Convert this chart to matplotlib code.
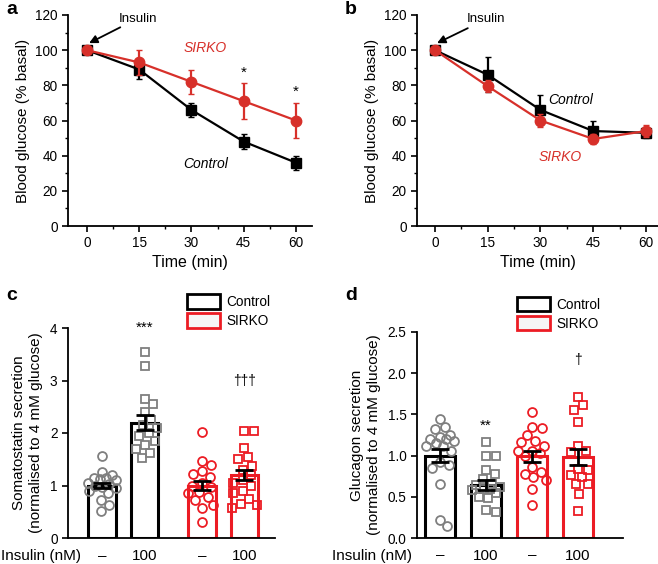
import numpy as np
import matplotlib
matplotlib.use("Agg")
import matplotlib.pyplot as plt
import matplotlib.transforms as mtransforms
from matplotlib.patches import Patch
from matplotlib.ticker import MultipleLocator, FormatStrFormatter

plt.rcParams['font.family'] = ['Liberation Sans', 'DejaVu Sans']

# --- panel a / b: insulin tolerance, % basal ---
time_min = [0, 15, 30, 45, 60]
a_control = [100, 89, 66, 48, 36]
a_control_err = [0, 5.5, 4, 4.2, 3.9]
a_sirko = [100, 93, 82, 71, 60]
a_sirko_err = [0, 7, 7, 10.3, 10.2]
a_stars = ["", "", "", "*", "*"]

b_control = [100, 86, 66, 54, 53]
b_control_err = [0, 10, 8.7, 6, 3]
b_sirko = [100, 79.5, 60, 49.5, 54]
b_sirko_err = [0, 3.5, 3.5, 3, 3.5]

# --- panel c: somatostatin secretion ---
insulin_labels = ["\u2013", "100", "\u2013", "100"]
c_means = [1.0, 2.2, 1.0, 1.2]
c_sems = [0.05, 0.14, 0.09, 0.10]
c_marks = ["***", "", "", "\u2020\u2020\u2020"]
c_ctrl_0 = [1.56, 1.25, 1.20, 1.15, 1.15, 1.12, 1.10, 1.05, 1.02, 1.00,
            0.98, 0.95, 0.90, 0.85, 0.72, 0.62, 0.52]
c_ctrl_100 = [3.55, 3.28, 2.65, 2.55, 2.40, 2.25, 2.15, 2.10, 2.00, 1.95,
              1.85, 1.78, 1.70, 1.62, 1.52]
c_sirko_0 = [2.02, 1.47, 1.40, 1.28, 1.22, 1.16, 1.04, 1.00, 0.97, 0.88,
             0.85, 0.79, 0.72, 0.63, 0.57, 0.30]
c_sirko_100 = [2.03, 2.03, 1.72, 1.55, 1.50, 1.38, 1.30, 1.20, 1.10, 1.05,
               1.00, 0.90, 0.85, 0.75, 0.65, 0.63, 0.57]

# --- panel d: glucagon secretion ---
d_means = [1.0, 0.64, 0.99, 0.98]
d_sems = [0.08, 0.06, 0.07, 0.10]
d_marks = ["", "**", "", "\u2020"]
d_ctrl_0 = [1.45, 1.35, 1.32, 1.25, 1.22, 1.20, 1.20, 1.18, 1.15, 1.12,
            1.12, 1.05, 0.92, 0.88, 0.85, 0.66, 0.22, 0.14]
d_ctrl_100 = [1.16, 1.00, 0.99, 0.83, 0.78, 0.72, 0.66, 0.64, 0.62, 0.60,
              0.60, 0.58, 0.55, 0.50, 0.48, 0.34, 0.31]
d_sirko_0 = [1.53, 1.35, 1.33, 1.25, 1.18, 1.16, 1.12, 1.06, 1.06, 1.03,
             1.00, 0.86, 0.80, 0.78, 0.74, 0.70, 0.59, 0.40]
d_sirko_100 = [1.71, 1.61, 1.55, 1.41, 1.12, 1.05, 1.04, 0.84, 0.82, 0.76,
               0.74, 0.65, 0.65, 0.54, 0.33]

RED_LINE = "#d7302a"
RED_BAR = "#ec1c24"
GREY = "#7f7f7f"


def style_axes(ax):
    for s in ("top", "right"):
        ax.spines[s].set_visible(False)
    for s in ("left", "bottom"):
        ax.spines[s].set_linewidth(1.3)
    ax.tick_params(direction="out", length=4, width=1.2, labelsize=9.8)
    ax.tick_params(which="minor", direction="out", length=2.5, width=1.0)


def time_panel(ax, ctrl, ctrl_err, sirko, sirko_err, xlim):
    ax.errorbar(time_min, ctrl, yerr=ctrl_err, color="black", marker="s",
                ms=7, lw=1.6, elinewidth=1.6, capsize=2.5, zorder=3)
    ax.errorbar(time_min, sirko, yerr=sirko_err, color=RED_LINE, marker="o",
                ms=7.5, lw=1.6, elinewidth=1.6, capsize=2.5, zorder=4)
    ax.set_xlim(*xlim)
    ax.set_ylim(0, 120)
    ax.set_xticks(time_min)
    ax.set_yticks(range(0, 121, 20))
    ax.xaxis.set_minor_locator(MultipleLocator(7.5))
    ax.yaxis.set_minor_locator(MultipleLocator(10))
    ax.set_xlabel("Time (min)", fontsize=11.5, labelpad=3)
    ax.set_ylabel("Blood glucose (% basal)", fontsize=11, labelpad=4)
    style_axes(ax)


def swarm_offsets(values, y_px, x_px, diam=9.5, max_off=14):
    # simple beeswarm: nudge each point sideways until it stops overlapping
    cands = [0]
    for k in range(1, max_off + 1):
        cands += [k, -k]
    placed, offs = [], []
    for v in values:
        y = v * y_px
        best, best_d = 0, -1.0
        for c in cands:
            d = min((np.hypot(c - px, y - py) for px, py in placed), default=1e9)
            if d >= diam:
                best = c
                break
            if d > best_d:
                best, best_d = c, d
        placed.append((best, y))
        offs.append(best / x_px)
    return offs


def bar_panel(ax, positions, means, sems, groups, ylim, yticks,
              ylabel, y_px, x_px, xlim, legend_xy):
    edge = ["black", "black", RED_BAR, RED_BAR]
    pts = [GREY, GREY, RED_BAR, RED_BAR]
    shapes = ["o", "s", "o", "s"]
    ax.bar(positions, means, width=0.65, facecolor="white", edgecolor=edge,
           linewidth=2.2, zorder=2)
    for p, vals, col, mk in zip(positions, groups, pts, shapes):
        offs = swarm_offsets(vals, y_px, x_px)
        ax.plot(np.array(offs) + p, vals, ls="none", marker=mk, ms=6.4,
                mfc="none", mec=col, mew=1.3, zorder=3)
    ax.errorbar(positions, means, yerr=sems, fmt="none", ecolor="black",
                elinewidth=2, capsize=6.5, capthick=2, zorder=4)
    ax.set_xlim(*xlim)
    ax.set_ylim(*ylim)
    ax.set_yticks(yticks)
    ax.set_xticks([])
    ax.set_ylabel(ylabel, fontsize=11, labelpad=5, linespacing=1.25)
    style_axes(ax)
    trans = mtransforms.blended_transform_factory(ax.transData, ax.transAxes)
    for p, lab in zip(positions, insulin_labels):
        ax.text(p, -0.085, lab, transform=trans, ha="center", va="center",
                fontsize=11)
    handles = [Patch(facecolor="white", edgecolor="black", lw=2),
               Patch(facecolor="#f6f6f6", edgecolor=RED_BAR, lw=2)]
    ax.legend(handles, ["Control", "SIRKO"], loc="upper left",
              bbox_to_anchor=legend_xy, frameon=False, fontsize=9.8,
              handlelength=2.4, handleheight=1.25, labelspacing=0.3,
              handletextpad=0.5, borderpad=0, borderaxespad=0)


fig = plt.figure(figsize=(6.58, 5.64), dpi=100)
W, H = 658, 564

ax_a = fig.add_axes([68 / W, 1 - 226 / H, 244 / W, 211 / H])
ax_b = fig.add_axes([417 / W, 1 - 226 / H, 241 / W, 211 / H])
ax_c = fig.add_axes([68 / W, 1 - 538 / H, 207 / W, 210 / H])
ax_d = fig.add_axes([417 / W, 1 - 538 / H, 206 / W, 206 / H])

# panel a
time_panel(ax_a, a_control, a_control_err, a_sirko, a_sirko_err, (-5.45, 64.6))
for t, v, e, s in zip(time_min, a_sirko, a_sirko_err, a_stars):
    if s:
        ax_a.text(t, v + e + 2, s, ha="center", va="bottom", fontsize=11)
ax_a.annotate("Insulin", xy=(0.6, 104), xytext=(9, 118), fontsize=9.5,
              va="center", ha="left",
              arrowprops=dict(arrowstyle="-|>", color="black", lw=1.3,
                              mutation_scale=12, shrinkA=0, shrinkB=0))
ax_a.text(34, 101.5, "SIRKO", color=RED_LINE, style="italic", fontsize=10,
          ha="center", va="center")
ax_a.text(34, 35.5, "Control", color="black", style="italic", fontsize=10,
          ha="center", va="center")

# panel b
time_panel(ax_b, b_control, b_control_err, b_sirko, b_sirko_err, (-5.1, 63.4))
ax_b.annotate("Insulin", xy=(0.6, 104), xytext=(9, 117.5), fontsize=9.5,
              va="center", ha="left",
              arrowprops=dict(arrowstyle="-|>", color="black", lw=1.3,
                              mutation_scale=12, shrinkA=0, shrinkB=0))
ax_b.text(38.5, 71.5, "Control", color="black", style="italic", fontsize=10,
          ha="center", va="center")
ax_b.text(35.5, 39.5, "SIRKO", color=RED_LINE, style="italic", fontsize=10,
          ha="center", va="center")

# panel c
pos_c = [0, 1, 2.35, 3.35]
bar_panel(ax_c, pos_c, c_means, c_sems,
          [c_ctrl_0, c_ctrl_100, c_sirko_0, c_sirko_100],
          (0, 4), [0, 1, 2, 3, 4],
          "Somatostatin secretion\n(normalised to 4 mM glucose)",
          52.5, 42.5, (-0.8, 4.07), (0.575, 1.16))
ax_c.text(pos_c[1], 4.0, c_marks[0], ha="center", va="center", fontsize=11)
ax_c.text(pos_c[3], 3.0, c_marks[3], ha="center", va="center", fontsize=10)

# panel d
pos_d = [0, 1, 2, 3]
bar_panel(ax_d, pos_d, d_means, d_sems,
          [d_ctrl_0, d_ctrl_100, d_sirko_0, d_sirko_100],
          (0, 2.5), [0.0, 0.5, 1.0, 1.5, 2.0, 2.5],
          "Glucagon secretion\n(normalised to 4 mM glucose)",
          82.5, 46, (-0.5, 3.98), (0.485, 1.17))
ax_d.yaxis.set_major_formatter(FormatStrFormatter("%.1f"))
ax_d.text(pos_d[1], 1.36, d_marks[1], ha="center", va="center", fontsize=11)
ax_d.text(pos_d[3], 2.16, d_marks[3], ha="center", va="center", fontsize=10)

fig.text(1 / W, 1 - 556 / H, "Insulin (nM)", ha="left", va="center", fontsize=11)
fig.text(332 / W, 1 - 556 / H, "Insulin (nM)", ha="left", va="center", fontsize=11)

for lab, x, y in [("a", 6, 10), ("b", 345, 10), ("c", 6, 296), ("d", 345, 296)]:
    fig.text(x / W, 1 - y / H, lab, fontsize=14, fontweight="bold",
             ha="left", va="center")

fig.savefig("out.png", dpi=100)
